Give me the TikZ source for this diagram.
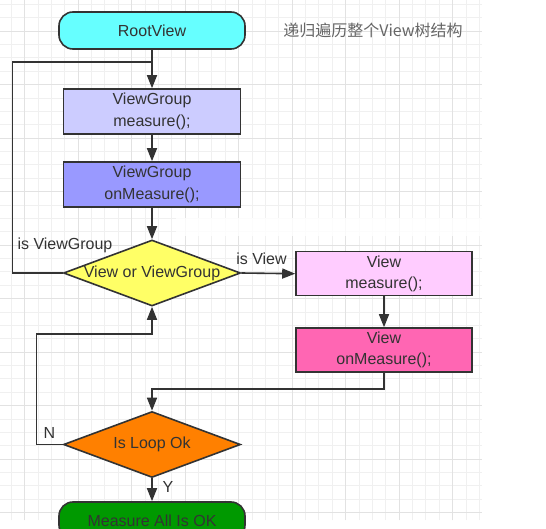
\documentclass[tikz,border=0pt]{standalone}
\usepackage{fontspec}
\setmainfont{Liberation Sans}
\newfontfamily\cjkfont{Noto Sans CJK SC}
\usetikzlibrary{shapes.geometric,arrows.meta}
\definecolor{linegray}{HTML}{333333}
\definecolor{titlegray}{HTML}{666666}
\definecolor{minorline}{HTML}{F0F0F0}
\definecolor{majorline}{HTML}{E2E2E2}
\definecolor{rootcyan}{HTML}{66FFFF}
\definecolor{groupmeasure}{HTML}{CCCCFF}
\definecolor{grouponmeasure}{HTML}{9999FF}
\definecolor{choiceyellow}{HTML}{FFFF66}
\definecolor{viewmeasure}{HTML}{FFCCFF}
\definecolor{viewonmeasure}{HTML}{FF66B3}
\definecolor{looporange}{HTML}{FF8000}
\definecolor{donegreen}{HTML}{009900}

\begin{document}
\begin{tikzpicture}[x=1pt, y=-1pt,
    every node/.style={font=\fontsize{16}{21.5}\selectfont, text=linegray},
    box/.style={draw=linegray, line width=1.6pt, minimum width=177pt, minimum height=45pt, align=center, inner sep=0pt},
    term/.style={box, rounded corners=14pt, minimum width=186pt, minimum height=37pt},
    choice/.style={draw=linegray, line width=1.6pt, diamond, aspect=2.68, inner sep=-4pt, minimum width=177pt, minimum height=66pt},
    link/.style={draw=linegray, line width=1.6pt, -{Triangle[length=13pt,width=10pt]}},
    plain/.style={draw=linegray, line width=1.6pt},
    minorgrid/.style={draw=minorline, line width=0.6pt},
    majorgrid/.style={draw=majorline, line width=0.8pt}]
    \useasboundingbox (0,0) rectangle (546,529);
    \fill[white] (0,0) rectangle (546,529);

    % grid
    \draw[minorgrid, step=13.375pt, xshift=11.125pt, yshift=-4.25pt] (-11.125,-4.25) grid (470.875,515.75);
    \draw[majorgrid, step=53.5pt, xshift=24.5pt, yshift=-31pt] (-24.5,-31) grid (457.5,489);
    \fill[white, opacity=0.8] (176,218) rectangle (482,236);

    % boxes
    \node[term, fill=rootcyan] (root) at (152,30.5) {RootView};
    \node[box, fill=groupmeasure] (groupm) at (152,111.5) {ViewGroup\\measure();};
    \node[box, fill=grouponmeasure] (groupo) at (152,184.5) {ViewGroup\\onMeasure();};
    \node[choice, fill=choiceyellow] (kind) at (152,273) {View or ViewGroup};
    \node[box, fill=viewmeasure, minimum width=176pt, minimum height=44pt] (viewm) at (384,273.7) {View\\measure();};
    \node[box, fill=viewonmeasure, minimum width=176pt, minimum height=44pt] (viewo) at (384,350) {View\\onMeasure();};
    \node[choice, fill=looporange] (loop) at (152,444.5) {Is Loop Ok};
    \node[term, fill=donegreen] (done) at (152,520.5) {Measure All Is OK};

    % text
    \node[text=titlegray, font=\cjkfont\fontsize{16}{19}\selectfont] (title) at (373,30) {递归遍历整个View树结构};
    \node[anchor=west] (isgroup) at (14,245) {is ViewGroup};
    \node (isview) at (261.5,259) {is View};
    \node (no) at (49.5,433) {N};
    \node (yes) at (168,486.5) {Y};

    % arrows
    \coordinate (back) at (152,62);
    \coordinate (backleft) at (12.5,62);
    \coordinate (retry) at (36.5,334);
    \draw[link] (root) -- (groupm);
    \draw[link] (groupm) -- (groupo);
    \draw[link] (groupo) -- (kind);
    \draw[plain] (kind.west) -| (backleft) -- (back);
    \draw[link] (kind.east) -- (viewm.west);
    \draw[link] (viewm) -- (viewo);
    \draw[link] (viewo.south) -- ++(0,16) -| (loop.north);
    \draw[link] (loop.west) -| (retry) -| (kind.south);
    \draw[link] (loop.south) -- (done.north);
\end{tikzpicture}
\end{document}
